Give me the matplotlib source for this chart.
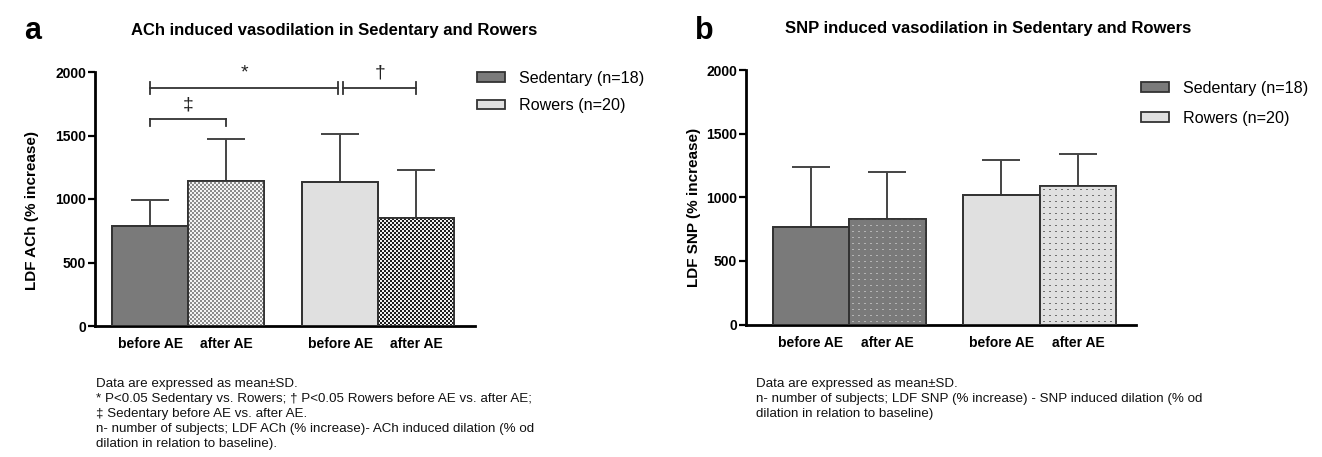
import numpy as np
import matplotlib
matplotlib.use("Agg")
import matplotlib.pyplot as plt
from matplotlib.patches import Patch

plt.rcParams['font.family'] = ['Liberation Sans', 'DejaVu Sans']

# ---------------- data ----------------
tick_labels = ["before AE", "after AE", "before AE", "after AE"]
series_names = ["Sedentary (n=18)", "Rowers (n=20)"]

ach_means = [790, 1140, 1130, 850]
ach_sd = [200, 330, 380, 380]

snp_means = [770, 830, 1020, 1090]
snp_sd = [465, 370, 275, 250]

# ---------------- style ----------------
SED = "#7a7a7a"
ROW = "#e0e0e0"
EDGE = "#333333"
ERR = "#444444"

fig = plt.figure(figsize=(13.22, 4.57), dpi=100)
W, H = 1322, 457


def fig_rect(l, t, r, b):
    return [l / W, 1 - b / H, (r - l) / W, (b - t) / H]


def hex2rgb(c):
    c = c.lstrip('#')
    return np.array([int(c[i:i + 2], 16) / 255 for i in (0, 2, 4)])


def pattern_fill(ax, patch, kind, c1, c2):
    x0 = patch.get_x()
    w = patch.get_width()
    h = patch.get_height()
    p0 = ax.transData.transform((x0, 0))
    p1 = ax.transData.transform((x0 + w, h))
    nx = max(1, int(round(p1[0] - p0[0])))
    ny = max(1, int(round(p1[1] - p0[1])))
    ii, jj = np.indices((ny, nx))
    if kind == "checker":
        mask = ((ii // 2 + jj // 2) % 2) == 0
    else:
        mask = ((ii % 6) == 3) & ((jj % 6) == 3)
        mask |= ((ii % 6) == 3) & ((jj % 6) == 4)
    arr = np.empty((ny, nx, 3))
    arr[:] = hex2rgb(c1)
    arr[mask] = hex2rgb(c2)
    im = ax.imshow(arr, extent=(x0, x0 + w, 0, h), origin='lower',
                   aspect='auto', interpolation='nearest', zorder=2.5)
    im.set_clip_path(patch)


def style_axes(ax, xmax):
    ax.set_ylim(0, 2000)
    ax.set_xlim(0, xmax)
    for s in ("top", "right"):
        ax.spines[s].set_visible(False)
    for s in ("left", "bottom"):
        ax.spines[s].set_linewidth(2.0)
    ax.set_yticks([0, 500, 1000, 1500, 2000])
    ax.tick_params(axis='y', direction='out', length=5, width=1.6, pad=1.5,
                   labelsize=10)
    ax.tick_params(axis='x', length=0, pad=8, labelsize=10)
    for lab in ax.get_yticklabels() + ax.get_xticklabels():
        lab.set_fontweight('bold')
    ax.patch.set_visible(False)


def draw_panel(ax, pos, means, sds, xmax, patterns, ylabel, ylab_xy):
    style_axes(ax, xmax)
    faces = [SED, SED, ROW, ROW]
    bars = ax.bar(pos, means, width=1.0, color=faces, edgecolor=EDGE,
                  linewidth=1.3, zorder=2)
    for b, pat in zip(bars, patterns):
        if pat is not None:
            pattern_fill(ax, b, *pat)
    ax.bar(pos, means, width=1.0, fill=False, edgecolor=EDGE,
           linewidth=1.3, zorder=3)
    ax.errorbar(pos, means, yerr=[np.zeros(len(means)), sds], fmt='none',
                ecolor=ERR, elinewidth=1.4, capsize=14, capthick=1.4,
                zorder=1.8)
    style_axes(ax, xmax)
    ax.set_xticks(pos)
    ax.set_xticklabels(tick_labels, fontweight='bold', fontsize=10)
    ax.set_ylabel(ylabel, fontsize=11, fontweight='bold')
    ax.yaxis.set_label_coords(*ylab_xy)


# ---------------- panel a ----------------
axa = fig.add_axes(fig_rect(95, 72, 475, 326))
pos_a = [0.73, 1.73, 3.23, 4.23]
draw_panel(axa, pos_a, ach_means, ach_sd, 5.0,
           [None, ("checker", "#f4f4f4", "#8c8c8c"), None,
            ("checker", "#f0f0f0", "#1e1e1e")],
           "LDF ACh (% increase)", (-0.147, 0.453))

# significance brackets
def bracket(ax, x1, x2, y, tick_up, tick_down, label=None, ly=None):
    ax.plot([x1, x2], [y, y], color=EDGE, lw=1.3, clip_on=False, zorder=4)
    for x in (x1, x2):
        ax.plot([x, x], [y - tick_down, y + tick_up], color=EDGE, lw=1.3,
                clip_on=False, zorder=4)
    if label:
        ax.text((x1 + x2) / 2, ly, label, ha='center', va='center',
                fontsize=14, color='#222222', clip_on=False)

bracket(axa, pos_a[0], pos_a[2] - 0.03, 1874, 47, 47, "*", 1990)
bracket(axa, pos_a[2] + 0.03, pos_a[3], 1874, 47, 47, "†", 1995)
bracket(axa, pos_a[0], pos_a[1], 1630, 0, 55, "‡", 1740)

handles = [Patch(facecolor=SED, edgecolor=EDGE, linewidth=1.3),
           Patch(facecolor=ROW, edgecolor=EDGE, linewidth=1.3)]
axa.legend(handles, series_names, loc='upper left',
           bbox_to_anchor=(477 / W, 1 - 71 / H), bbox_transform=fig.transFigure,
           frameon=False, fontsize=11.6, handlelength=1.75, handleheight=0.55,
           handletextpad=0.85, labelspacing=0.75, borderpad=0, borderaxespad=0)

# ---------------- panel b ----------------
axb = fig.add_axes(fig_rect(746, 70, 1136, 324.5))
pos_b = [0.85, 1.85, 3.34, 4.34]
draw_panel(axb, pos_b, snp_means, snp_sd, 5.1,
           [None, ("dots", SED, "#b4b4b4"), None, ("dots", ROW, "#707070")],
           "LDF SNP (% increase)", (-0.115, 0.46))
axb.legend(handles, series_names, loc='upper left',
           bbox_to_anchor=(1141 / W, 1 - 81 / H), bbox_transform=fig.transFigure,
           frameon=False, fontsize=11.6, handlelength=1.75, handleheight=0.55,
           handletextpad=0.85, labelspacing=0.9, borderpad=0, borderaxespad=0)

# ---------------- titles, panel letters ----------------
fig.text(33 / W, 1 - 31 / H, "a", fontsize=22, fontweight='bold', ha='center', va='center')
fig.text(704 / W, 1 - 31 / H, "b", fontsize=22, fontweight='bold', ha='center', va='center')
fig.text(334 / W, 1 - 30 / H, "ACh induced vasodilation in Sedentary and Rowers",
         fontsize=12, fontweight='bold', ha='center', va='center')
fig.text(988 / W, 1 - 28 / H, "SNP induced vasodilation in Sedentary and Rowers",
         fontsize=12, fontweight='bold', ha='center', va='center')

# ---------------- footnotes ----------------
note_a = ("Data are expressed as mean±SD.\n"
          "* P<0.05 Sedentary vs. Rowers; † P<0.05 Rowers before AE vs. after AE;\n"
          "‡ Sedentary before AE vs. after AE.\n"
          "n- number of subjects; LDF ACh (% increase)- ACh induced dilation (% od\n"
          "dilation in relation to baseline).")
note_b = ("Data are expressed as mean±SD.\n"
          "n- number of subjects; LDF SNP (% increase) - SNP induced dilation (% od\n"
          "dilation in relation to baseline)")
fig.text(96 / W, 1 - 378 / H, note_a, fontsize=9.6, ha='left', va='top',
         linespacing=1.33, color='#111111')
fig.text(756 / W, 1 - 378 / H, note_b, fontsize=9.6, ha='left', va='top',
         linespacing=1.33, color='#111111')

fig.savefig("out.png", dpi=100)
